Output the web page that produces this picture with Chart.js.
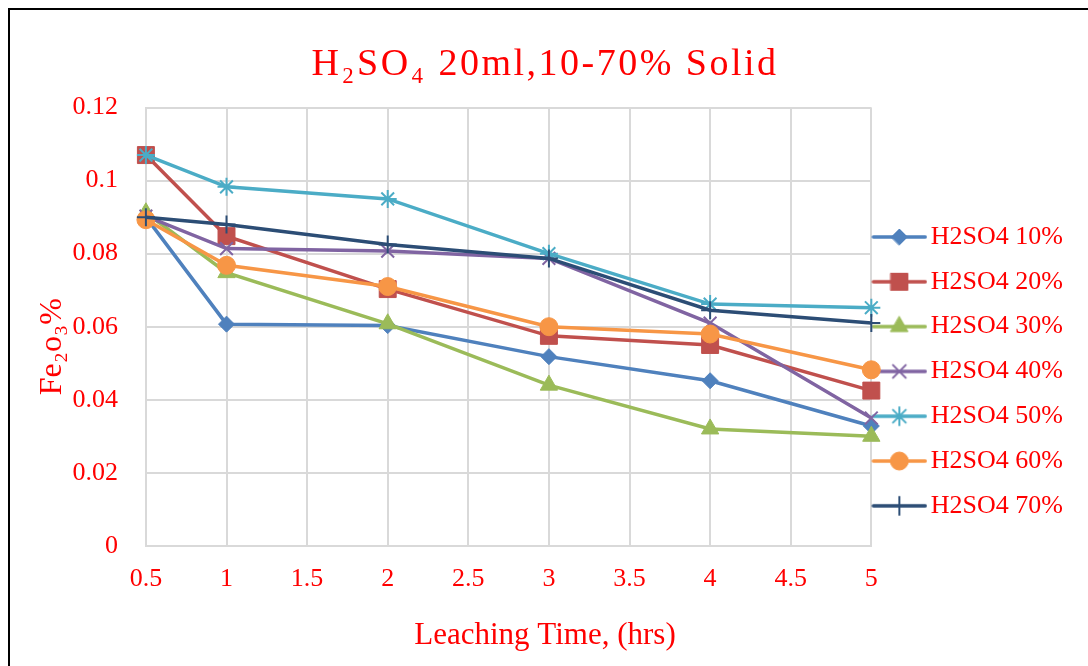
<!DOCTYPE html>
<html>
<head>
<meta charset="utf-8">
<title>H2SO4 20ml,10-70% Solid</title>
<script src="https://cdn.jsdelivr.net/npm/chart.js@4.4.1/dist/chart.umd.min.js"></script>
<style>
  body { margin: 0; background: #fff; }
  #wrap { position: relative; width: 1088px; height: 666px; overflow: hidden; }
  #lineChart { display: block; }
  #frame { position: absolute; left: 8px; top: 8px; right: -4px; bottom: -4px; border-left: 2px solid #000; border-top: 2px solid #000; pointer-events: none; }
</style>
</head>
<body>
<div id="wrap">
  <canvas id="lineChart" width="1088" height="666"></canvas>
  <div id="frame"></div>
</div>
<script>
// x axis tick labels (category axis, evenly spaced like the original)
const timeTicks = ['0.5', '1', '1.5', '2', '2.5', '3', '3.5', '4', '4.5', '5'];
// leaching times that were actually measured
const times = ['0.5', '1', '2', '3', '4', '5'];

// Fe2O3 % for each solid ratio
const h2so4_10 = [0.0900, 0.0607, 0.0603, 0.0518, 0.0452, 0.0328];
const h2so4_20 = [0.1070, 0.0848, 0.0703, 0.0575, 0.0550, 0.0425];
const h2so4_30 = [0.0912, 0.0748, 0.0608, 0.0440, 0.0320, 0.0300];
const h2so4_40 = [0.0903, 0.0814, 0.0807, 0.0787, 0.0610, 0.0350];
const h2so4_50 = [0.1070, 0.0983, 0.0950, 0.0800, 0.0662, 0.0652];
const h2so4_60 = [0.0893, 0.0768, 0.0710, 0.0600, 0.0580, 0.0482];
const h2so4_70 = [0.0900, 0.0880, 0.0825, 0.0787, 0.0645, 0.0610];

const seriesNames = ['H2SO4 10%', 'H2SO4 20%', 'H2SO4 30%', 'H2SO4 40%', 'H2SO4 50%', 'H2SO4 60%', 'H2SO4 70%'];
const seriesValues = [h2so4_10, h2so4_20, h2so4_30, h2so4_40, h2so4_50, h2so4_60, h2so4_70];
const colors = ['#4F81BD', '#C0504D', '#9BBB59', '#8064A2', '#4BACC6', '#F79646', '#2C4D75'];
const markers = ['rectRot', 'rect', 'triangle', 'crossRot', 'star', 'circle', 'cross'];
const markerSizes = [8, 12, 10, 9, 9, 9, 9];
const markerBorders = [1, 1, 1, 2, 2, 1, 2];

const red = '#FF0000';
const serif = "'Liberation Serif', 'Times New Roman', serif";
const lineW = 3.5;

const datasets = seriesNames.map((name, i) => ({
    label: name,
    data: seriesValues[i].map((v, j) => ({ x: times[j], y: v })),
    borderColor: colors[i],
    backgroundColor: colors[i],
    borderWidth: lineW,
    pointStyle: markers[i],
    pointRadius: markerSizes[i],
    pointBorderWidth: markerBorders[i],
    pointBackgroundColor: colors[i],
    pointBorderColor: colors[i],
    // later series sit on top, like in Excel
    order: seriesNames.length - i,
}));

// legend symbol: short line with the marker in the middle
function legendIcon(ds) {
    const c = document.createElement('canvas');
    c.width = 56;
    c.height = 28;
    const ctx = c.getContext('2d');
    ctx.strokeStyle = ds.borderColor;
    ctx.fillStyle = ds.borderColor;
    ctx.lineWidth = lineW;
    ctx.lineCap = 'round';
    ctx.beginPath();
    ctx.moveTo(2, 14);
    ctx.lineTo(54, 14);
    ctx.stroke();
    ctx.lineWidth = ds.pointBorderWidth;
    Chart.helpers.drawPoint(ctx, {
        pointStyle: ds.pointStyle,
        radius: ds.pointRadius,
        rotation: 0,
        borderWidth: ds.pointBorderWidth
    }, 28, 14);
    return c;
}

// spaced-out title letters
const titleSpacing = {
    id: 'titleSpacing',
    afterInit(chart) {
        const block = chart.titleBlock;
        if (!block) return;
        const draw = block.draw;
        block.draw = function () {
            chart.ctx.save();
            chart.ctx.letterSpacing = '2.5px';
            draw.apply(this, arguments);
            chart.ctx.restore();
        };
    }
};

let lineChart;

function createLineChart() {
    const ctx = document.getElementById('lineChart').getContext('2d');
    lineChart = new Chart(ctx, {
        type: 'line',
        data: {
            labels: timeTicks,
            datasets: datasets
        },
        plugins: [titleSpacing],
        options: {
            responsive: false,
            animation: false,
            devicePixelRatio: 1,
            layout: {
                padding: { left: 17, right: 15, top: 0, bottom: 0 }
            },
            scales: {
                x: {
                    type: 'category',
                    offset: false,
                    grid: { color: '#D9D9D9', lineWidth: 2, drawTicks: false },
                    border: { color: '#D9D9D9', width: 2 },
                    ticks: {
                        color: red,
                        font: { family: serif, size: 26 },
                        padding: 18,
                        maxRotation: 0,
                        autoSkip: false
                    }
                },
                y: {
                    min: 0,
                    max: 0.12,
                    grid: { color: '#D9D9D9', lineWidth: 2, drawTicks: false },
                    border: { color: '#D9D9D9', width: 2 },
                    ticks: {
                        stepSize: 0.02,
                        color: red,
                        font: { family: serif, size: 26 },
                        padding: 28,
                        callback: (v) => String(+v.toFixed(2))
                    },
                    title: {
                        display: true,
                        // trailing spaces push the label a bit lower, as in the original
                        text: 'Fe₂o₃%\u00A0\u00A0\u00A0\u00A0\u00A0',
                        color: red,
                        font: { family: serif, size: 32 },
                        padding: { top: 16, bottom: -27 }
                    }
                }
            },
            plugins: {
                title: {
                    display: true,
                    text: 'H₂SO₄ 20ml,10-70% Solid',
                    color: red,
                    font: { family: serif, size: 38, weight: 'normal' },
                    padding: { top: 42, bottom: 20 }
                },
                subtitle: {
                    display: true,
                    position: 'bottom',
                    text: 'Leaching Time, (hrs)',
                    color: red,
                    font: { family: serif, size: 31, weight: 'normal' },
                    padding: { top: 4.4, bottom: 11.4 }
                },
                legend: {
                    position: 'right',
                    align: 'start',
                    title: {
                        display: true,
                        text: ' ',
                        font: { size: 1, lineHeight: 1 },
                        padding: { top: 213.5, bottom: 0 }
                    },
                    labels: {
                        usePointStyle: true,
                        pointStyleWidth: 37,
                        padding: 9.5,
                        color: red,
                        font: { family: serif, size: 26, lineHeight: 1.358 },
                        generateLabels: (chart) => chart.data.datasets.map((ds, i) => ({
                            text: [ds.label],
                            fontColor: red,
                            fillStyle: ds.borderColor,
                            strokeStyle: ds.borderColor,
                            lineWidth: 0,
                            pointStyle: legendIcon(ds),
                            hidden: false,
                            datasetIndex: i
                        }))
                    }
                },
                tooltip: { enabled: false }
            }
        }
    });
}

createLineChart();
</script>
</body>
</html>
